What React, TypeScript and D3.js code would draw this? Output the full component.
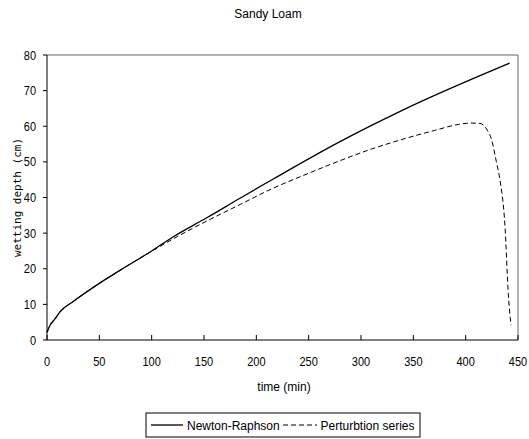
import React from 'react';
import * as d3 from 'd3';

const chartTitle = 'Sandy Loam';
const xTitle = 'time (min)';
const yTitle = 'wetting depth (cm)';
const seriesNames = ['Newton-Raphson', 'Perturbtion series'];

const timeNR = [0, 3, 7.6, 12.4, 25, 50, 70, 100, 120.7, 152.6, 184.4, 216.2, 276.8, 340.4, 442];
const depthNR = [2.2, 4.2, 5.9, 7.9, 10.8, 15.9, 19.6, 25.0, 29.0, 34.3, 39.8, 45.2, 55.2, 64.6, 77.7];

const timePS = [0, 3, 7.6, 12.4, 25, 50, 70, 100, 120, 150, 185, 213, 250, 277, 310, 328, 345, 370, 393, 405, 413.7, 420, 424.9, 429.6, 432.8, 437.6, 440.7, 443.3];
const depthPS = [2.2, 4.2, 5.9, 7.9, 10.8, 15.9, 19.6, 24.9, 28.3, 33.0, 38.1, 42.2, 46.8, 50.0, 53.6, 55.3, 56.8, 58.8, 60.5, 60.9, 60.8, 59.2, 56.1, 49.6, 44.9, 31.8, 13.1, 4.2];

const xTicks = [0, 50, 100, 150, 200, 250, 300, 350, 400, 450];
const yTicks = [0, 10, 20, 30, 40, 50, 60, 70, 80];

export default function App() {
  const W = 529, H = 439;
  const left = 47, right = 518, top = 55, bottom = 340;
  const x = d3.scaleLinear().domain([0, 450]).range([left, right]);
  const y = d3.scaleLinear().domain([0, 80]).range([bottom, top]);
  const line = d3.line<[number, number]>().x(d => x(d[0])).y(d => y(d[1])).curve(d3.curveMonotoneX);
  const nr = timeNR.map((t, i) => [t, depthNR[i]] as [number, number]);
  const ps = timePS.map((t, i) => [t, depthPS[i]] as [number, number]);
  const font = 'Liberation Sans, Arial, sans-serif';

  return (
    <svg width={W} height={H} style={{ position: 'absolute', left: 0, top: 0, background: '#fff' }}>
      <rect x={0} y={0} width={W} height={H} fill="#fff" />
      <text x={268} y={18} textAnchor="middle" fontFamily={font} fontSize={12}>{chartTitle}</text>

      {/* plot frame */}
      <line x1={left} y1={top} x2={right} y2={top} stroke="#666" strokeWidth={1} />
      <line x1={right} y1={top} x2={right} y2={bottom} stroke="#666" strokeWidth={1} />
      <line x1={left} y1={top} x2={left} y2={bottom} stroke="#000" strokeWidth={1} />
      <line x1={left} y1={bottom} x2={right} y2={bottom} stroke="#000" strokeWidth={1} />

      {yTicks.map(v => (
        <g key={'y' + v}>
          <line x1={left - 4} x2={left} y1={y(v)} y2={y(v)} stroke="#000" />
          <text transform={`translate(${36},${y(v) + 4.5}) scale(0.88,1)`} textAnchor="end" fontFamily={font} fontSize={12.5}>{v}</text>
        </g>
      ))}
      {xTicks.map(v => (
        <g key={'x' + v}>
          <line x1={x(v)} x2={x(v)} y1={bottom - 5} y2={bottom} stroke="#000" />
          <text transform={`translate(${x(v)},${366}) scale(0.88,1)`} textAnchor="middle" fontFamily={font} fontSize={12.5}>{v}</text>
        </g>
      ))}

      <text x={284} y={391} textAnchor="middle" fontFamily={font} fontSize={12}>{xTitle}</text>
      <text transform={`translate(21,${(top + bottom) / 2}) rotate(-90)`} textAnchor="middle" fontFamily="DejaVu Sans Mono, monospace" fontSize={11}>{yTitle}</text>

      <path d={line(ps) || ''} fill="none" stroke="#000" strokeWidth={1} strokeDasharray="5,3" />
      <path d={line(nr) || ''} fill="none" stroke="#000" strokeWidth={1.3} />

      {/* legend */}
      <rect x={146} y={413} width={274} height={24} fill="#fff" stroke="#000" strokeWidth={1} />
      <line x1={151} x2={183} y1={425} y2={425} stroke="#000" strokeWidth={1.3} />
      <text x={187} y={429.5} fontFamily={font} fontSize={12}>{seriesNames[0]}</text>
      <line x1={283} x2={317} y1={425} y2={425} stroke="#000" strokeWidth={1} strokeDasharray="5,3" />
      <text x={320.5} y={429.5} fontFamily={font} fontSize={12}>{seriesNames[1]}</text>
    </svg>
  );
}
